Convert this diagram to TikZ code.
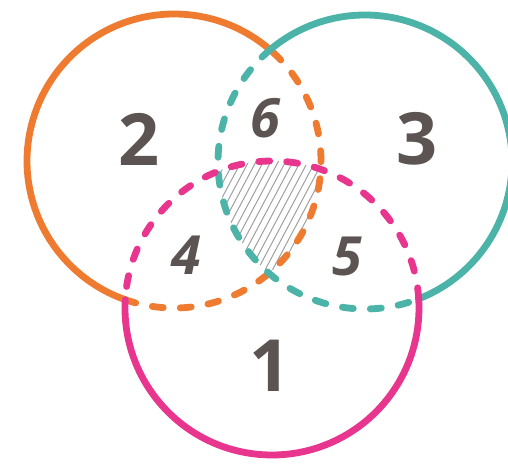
\documentclass[tikz,border=0pt]{standalone}
\usepackage{fontspec}
\setmainfont{Open Sans}
\definecolor{corange}{HTML}{EE7B30}
\definecolor{cteal}{HTML}{4BB3A7}
\definecolor{cpink}{HTML}{E8358E}
\definecolor{cnum}{HTML}{5B5452}
\begin{document}
\begin{tikzpicture}[x=1pt,y=1pt,
  solidring/.style={line width=6.8pt, line cap=round},
  dashring/.style={line width=6.8pt, dash pattern=on 11pt off 17pt, line cap=round},
  hatch/.style={draw=gray!75, line width=1pt},
  bignum/.style={text=cnum, font=\fontsize{72}{72}\selectfont\bfseries, inner sep=0pt},
  smallnum/.style={text=cnum, font=\fontsize{54}{54}\selectfont\bfseries\itshape, inner sep=0pt}]
\useasboundingbox (0,0) rectangle (508,463);
\coordinate (O) at (174,302);
\coordinate (T) at (365,301);
\coordinate (P) at (272,155);
% hatched centre
\begin{scope}
\clip (O) circle[radius=147];
\clip (T) circle[radius=147];
\clip (P) circle[radius=147];
\foreach \i in {0,...,34} \draw[hatch] (90+\i*7.4,170) -- ++(62:150);
\end{scope}
% orange circle (2)
\draw[solidring, corange] (O) ++(49.2:147) arc[start angle=49.2, end angle=250.6, radius=147];
\draw[dashring, corange] (O) ++(250.6:147) arc[start angle=250.6, end angle=409.2, radius=147];
% teal circle (3)
\draw[solidring, cteal] (T) ++(-68.6:147) arc[start angle=-68.6, end angle=130.2, radius=147];
\draw[dashring, cteal] (T) ++(130.2:147) arc[start angle=130.2, end angle=291.4, radius=147];
% pink circle (1)
\draw[solidring, cpink] (P) ++(176.8:147) arc[start angle=176.8, end angle=363.6, radius=147];
\draw[dashring, cpink] (P) ++(3.6:147) arc[start angle=3.6, end angle=176.8, radius=147];
% labels
\node[bignum] (n2) at (139,324) {2};
\node[bignum] (n3) at (417,324) {3};
\node[bignum] (n1) at (270,97) {1};
\node[smallnum] (n6) at (265,345) {6};
\node[smallnum] (n4) at (186,208) {4};
\node[smallnum] (n5) at (347,207) {5};
\end{tikzpicture}
\end{document}
